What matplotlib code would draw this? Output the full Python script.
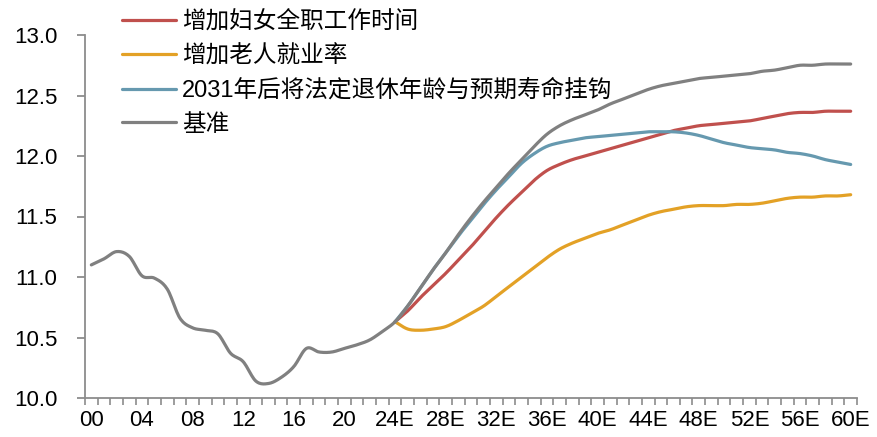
import numpy as np
import matplotlib
matplotlib.use("Agg")
import matplotlib.pyplot as plt

plt.rcParams['font.family'] = ['Liberation Sans', 'Noto Sans CJK SC', 'DejaVu Sans']

# Years 2000..2060 as category positions
years = list(range(2000, 2061))
tick_labels = ["00", "04", "08", "12", "16", "20", "24E", "28E", "32E", "36E",
               "40E", "44E", "48E", "52E", "56E", "60E"]

# Baseline (2000-2060)
baseline = [11.10, 11.15, 11.21, 11.17, 11.01, 10.99, 10.90, 10.66, 10.58, 10.56,
            10.53, 10.37, 10.30, 10.14, 10.12, 10.17, 10.26, 10.41, 10.38, 10.38,
            10.41, 10.44, 10.48, 10.55, 10.63, 10.76, 10.91, 11.06, 11.20, 11.35,
            11.49, 11.62, 11.74, 11.86, 11.97, 12.08, 12.18, 12.25, 12.30, 12.34,
            12.38, 12.43, 12.47, 12.51, 12.55, 12.58, 12.60, 12.62, 12.64, 12.65,
            12.66, 12.67, 12.68, 12.70, 12.71, 12.73, 12.75, 12.75, 12.76, 12.76,
            12.76]

# Scenarios (2024-2060)
women_fulltime = [10.63, 10.72, 10.83, 10.93, 11.03, 11.14, 11.25, 11.37, 11.49, 11.60,
                  11.70, 11.80, 11.88, 11.93, 11.97, 12.00, 12.03, 12.06, 12.09, 12.12,
                  12.15, 12.18, 12.21, 12.23, 12.25, 12.26, 12.27, 12.28, 12.29, 12.31,
                  12.33, 12.35, 12.36, 12.36, 12.37, 12.37, 12.37]
elderly_employment = [10.63, 10.57, 10.56, 10.57, 10.59, 10.64, 10.70, 10.76, 10.84, 10.92,
                      11.00, 11.08, 11.16, 11.23, 11.28, 11.32, 11.36, 11.39, 11.43, 11.47,
                      11.51, 11.54, 11.56, 11.58, 11.59, 11.59, 11.59, 11.60, 11.60, 11.61,
                      11.63, 11.65, 11.66, 11.66, 11.67, 11.67, 11.68]
retire_age_linked = [10.63, 10.76, 10.91, 11.06, 11.20, 11.34, 11.47, 11.60, 11.72, 11.83,
                     11.94, 12.02, 12.08, 12.11, 12.13, 12.15, 12.16, 12.17, 12.18, 12.19,
                     12.20, 12.20, 12.20, 12.19, 12.17, 12.14, 12.11, 12.09, 12.07, 12.06,
                     12.05, 12.03, 12.02, 12.00, 11.97, 11.95, 11.93]

labels = ["增加妇女全职工作时间", "增加老人就业率", "2031年后将法定退休年龄与预期寿命挂钩", "基准"]
colors = ["#C0504D", "#E3A126", "#6699AF", "#808080"]


def smooth(x, y, n=12):
    """Catmull-Rom spline through the points, for a smoothed line."""
    x = np.asarray(x, float)
    y = np.asarray(y, float)
    px = np.concatenate([[2 * x[0] - x[1]], x, [2 * x[-1] - x[-2]]])
    py = np.concatenate([[2 * y[0] - y[1]], y, [2 * y[-1] - y[-2]]])
    xs, ys = [], []
    t = np.linspace(0, 1, n, endpoint=False)
    for i in range(1, len(px) - 2):
        for p, out in ((px, xs), (py, ys)):
            p0, p1, p2, p3 = p[i - 1], p[i], p[i + 1], p[i + 2]
            out.append(0.5 * ((2 * p1) + (-p0 + p2) * t
                              + (2 * p0 - 5 * p1 + 4 * p2 - p3) * t ** 2
                              + (-p0 + 3 * p1 - 3 * p2 + p3) * t ** 3))
    xs = np.concatenate(xs + [[x[-1]]])
    ys = np.concatenate(ys + [[y[-1]]])
    return xs, ys


fig = plt.figure(figsize=(8.78, 4.37), dpi=100)
ax = fig.add_axes([85 / 878, 1 - 398 / 437, (857 - 85) / 878, (398 - 35) / 437])

idx = np.arange(len(years))
proj_idx = idx[years.index(2024):]

series = [(proj_idx, women_fulltime), (proj_idx, elderly_employment),
          (proj_idx, retire_age_linked), (idx, baseline)]
for (xi, yv), lab, c in zip(series, labels, colors):
    sx, sy = smooth(xi, yv)
    ax.plot(sx, sy, color=c, lw=2.3, label=lab, solid_capstyle='round')

ax.set_xlim(-0.5, len(years) - 0.5)
ax.set_ylim(10.0, 13.0)
ax.set_yticks(np.arange(10.0, 13.01, 0.5))
ax.set_yticklabels([f"{v:.1f}" for v in np.arange(10.0, 13.01, 0.5)])

ax.set_xticks(np.arange(0, len(years), 4))
ax.set_xticklabels(tick_labels)
ax.set_xticks(np.arange(-0.5, len(years), 1), minor=True)

spine_c = "#8C8C8C"
for s in ("top", "right"):
    ax.spines[s].set_visible(False)
for s in ("left", "bottom"):
    ax.spines[s].set_color(spine_c)
    ax.spines[s].set_linewidth(1.3)

ax.tick_params(axis='y', direction='out', length=6, width=1.3, color=spine_c,
               labelsize=16, pad=14)
ax.tick_params(axis='x', which='major', length=0, labelsize=16, pad=9)
ax.tick_params(axis='x', which='minor', direction='out', length=5, width=1.2,
               color=spine_c)

ax.legend(loc='upper left', bbox_to_anchor=(122 / 878, 1 - 11 / 437),
          bbox_transform=fig.transFigure, frameon=False, fontsize=17,
          handlelength=2.3, handletextpad=0.25, labelspacing=0.5,
          borderpad=0, borderaxespad=0)

fig.savefig("out.png", dpi=100)
